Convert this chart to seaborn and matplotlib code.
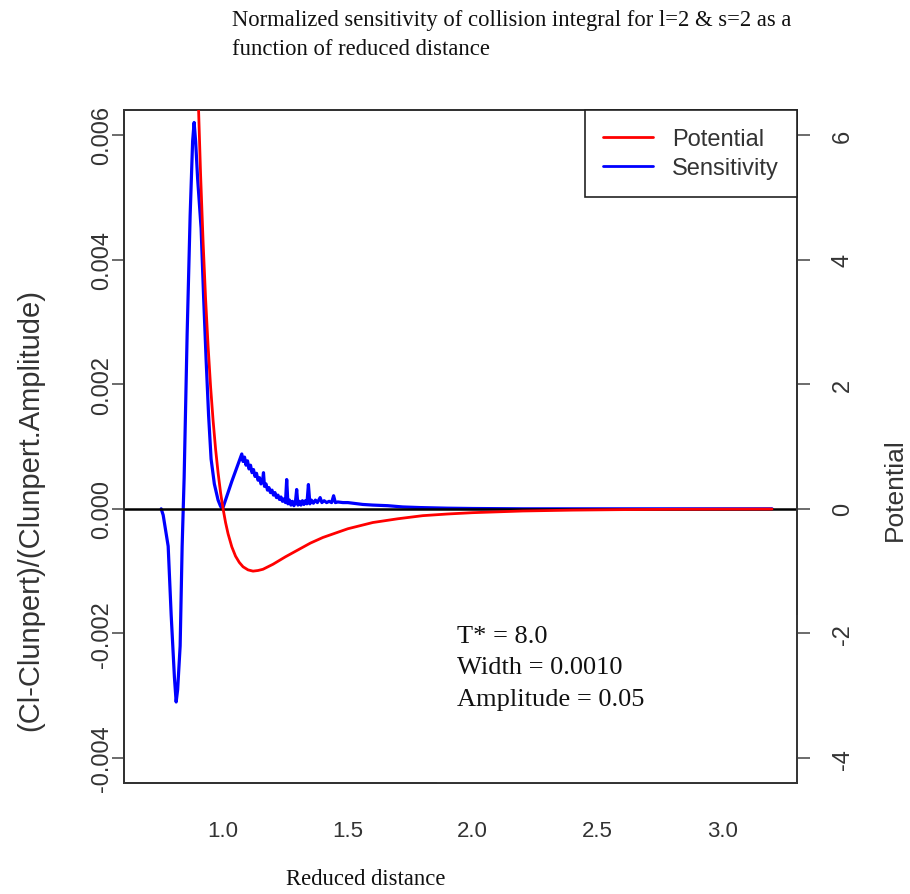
import matplotlib
matplotlib.use("Agg")
import matplotlib.pyplot as plt
import seaborn as sns
import pandas as pd
from matplotlib.lines import Line2D
from matplotlib.patches import Rectangle

# ---------------- data ----------------
sens_x = [0.752, 0.76, 0.78, 0.792, 0.805, 0.812, 0.818, 0.828, 0.836,
          0.844, 0.856, 0.868, 0.878, 0.884, 0.890, 0.898, 0.912, 0.922, 0.932,
          0.942, 0.952, 0.965, 0.980, 0.990, 0.998, 1.035, 1.075,
          1.080, 1.086, 1.092, 1.098, 1.104, 1.110, 1.116, 1.122, 1.128, 1.134,
          1.140, 1.146, 1.152, 1.158, 1.162, 1.166, 1.172, 1.178, 1.184, 1.190,
          1.196, 1.202, 1.208, 1.214, 1.220, 1.226, 1.232, 1.238, 1.244, 1.250,
          1.255, 1.260, 1.266, 1.272, 1.278, 1.284, 1.290, 1.295, 1.300, 1.306,
          1.312, 1.318, 1.324, 1.330, 1.336, 1.342, 1.348, 1.354, 1.362, 1.370,
          1.378, 1.389, 1.396, 1.405, 1.415, 1.425, 1.435, 1.443, 1.450, 1.46,
          1.48, 1.50, 1.52, 1.56, 1.60, 1.66, 1.72, 1.79, 1.90, 2.00,
          2.20, 2.50, 2.80, 3.20]
sens_y = [0.0, -0.0001, -0.0006, -0.0017, -0.0027, -0.0031, -0.0029, -0.0022, -0.0006,
          0.0005, 0.0028, 0.0047, 0.0059, 0.0062, 0.0059, 0.0053, 0.0045, 0.0034, 0.0024,
          0.0015, 0.0008, 0.0004, 0.00014, 0.00004, 0.0, 0.00044, 0.00088,
          0.00076, 0.00083, 0.00070, 0.00077, 0.00064, 0.00070, 0.00058, 0.00063, 0.00052, 0.00057,
          0.00046, 0.00050, 0.00040, 0.00044, 0.00058, 0.00036, 0.00040, 0.00030, 0.00034, 0.00026,
          0.00030, 0.00022, 0.00026, 0.00018, 0.00022, 0.00015, 0.00019, 0.00012, 0.00016, 0.00010,
          0.00047, 0.00008, 0.00014, 0.00006, 0.00012, 0.00005, 0.00011, 0.00031, 0.00006, 0.00012,
          0.00006, 0.00013, 0.00007, 0.00013, 0.00008, 0.00039, 0.00008, 0.00014, 0.00009, 0.00014,
          0.00010, 0.00018, 0.00010, 0.00013, 0.00010, 0.00012, 0.00010, 0.00021, 0.00010, 0.00011,
          0.00010, 0.00010, 0.00009, 0.00007, 0.00006, 0.00005, 0.00003, 0.00002, 0.00001, 0.000005,
          0.0, 0.0, 0.0, 0.0]

pot_x = [0.88, 0.89, 0.90, 0.91, 0.92, 0.93, 0.94, 0.95, 0.96, 0.97,
         0.98, 0.99, 1.00, 1.01, 1.02, 1.035, 1.05, 1.065, 1.08, 1.10,
         1.12, 1.14, 1.16, 1.20, 1.25, 1.30, 1.35, 1.40, 1.50, 1.60,
         1.70, 1.80, 1.90, 2.00, 2.20, 2.40, 2.60, 2.80, 3.00, 3.20]
pot_y = [9.93, 8.15, 6.64, 5.36, 4.28, 3.37, 2.61, 1.96, 1.42, 0.96,
         0.58, 0.26, 0.0, -0.22, -0.40, -0.61, -0.76, -0.86, -0.93, -0.98,
         -1.00, -0.99, -0.97, -0.89, -0.77, -0.66, -0.55, -0.46, -0.32, -0.22,
         -0.16, -0.11, -0.083, -0.062, -0.035, -0.021, -0.013, -0.008, -0.0055, -0.0037]

x_ticks = [1.0, 1.5, 2.0, 2.5, 3.0]
sens_ticks = [-0.004, -0.002, 0.0, 0.002, 0.004, 0.006]
pot_ticks = [-4, -2, 0, 2, 4, 6]

title_text = ("Normalized sensitivity of collision integral for l=2 & s=2 as a\n"
              "function of reduced distance")
x_label = "Reduced distance"
left_label = "(Cl-Clunpert)/(Clunpert.Amplitude)"
right_label = "Potential"
legend_labels = ["Potential", "Sensitivity"]
note_lines = ["T* = 8.0", "Width = 0.0010", "Amplitude = 0.05"]

# ---------------- style ----------------
sns.set_style("white")
plt.rcParams["font.family"] = ["Liberation Sans", "DejaVu Sans"]
SERIF = ["Liberation Serif", "DejaVu Serif"]

W, H = 910, 895
fig = plt.figure(figsize=(W / 100, H / 100), dpi=100)
fig.patch.set_facecolor("white")

L, R, T, B = 124, 797, 111, 784
ax = fig.add_axes([L / W, 1 - B / H, (R - L) / W, (B - T) / H])
ax2 = ax.twinx()

sens_df = pd.DataFrame({"x": sens_x, "y": sens_y})
pot_df = pd.DataFrame({"x": pot_x, "y": pot_y})

sns.lineplot(data=sens_df, x="x", y="y", ax=ax, color="#0000ff", lw=2.3,
             estimator=None, sort=False, zorder=3)
ax.axhline(0, color="black", lw=1.8, zorder=4)
sns.lineplot(data=pot_df, x="x", y="y", ax=ax2, color="#ff0000", lw=2.0,
             estimator=None, sort=False, zorder=3)

ax.set_xlim(0.603, 3.30)
ax.set_ylim(-0.0044, 0.0064)
ax2.set_ylim(-4.4, 6.4)

ax.set_xticks(x_ticks)
ax.set_xticklabels([f"{v:.1f}" for v in x_ticks])
ax.set_yticks(sens_ticks)
ax.set_yticklabels([f"{v:.3f}" for v in sens_ticks])
ax2.set_yticks(pot_ticks)
ax2.set_yticklabels([str(v) for v in pot_ticks])

ax.set_xlabel("")
ax.set_ylabel("")
ax2.set_ylabel("")

for a in (ax, ax2):
    for s in a.spines.values():
        s.set_color("#333333")
        s.set_linewidth(1.4)

tick_kw = dict(direction="out", length=9, width=1.1, color="#444444",
               labelcolor="#333333")
ax.tick_params(axis="x", pad=17.5, labelsize=16, **tick_kw)
ax.tick_params(axis="y", left=True, pad=-1, labelsize=17, **tick_kw)
ax2.tick_params(axis="y", right=True, pad=16, labelsize=17, **tick_kw)
for lab in ax.get_yticklabels():
    lab.set_rotation(90)
    lab.set_va("center")
for lab in ax2.get_yticklabels():
    lab.set_rotation(90)
    lab.set_va("center")

# white annotation panel in the lower right
ax2.add_patch(Rectangle((0.465, 0.0), 0.537, 0.25, transform=ax2.transAxes,
                        facecolor="white", edgecolor="none", zorder=1.5,
                        clip_on=False))

# legend
handles = [Line2D([], [], color="#ff0000", lw=2.0),
           Line2D([], [], color="#0000ff", lw=2.0)]
leg = ax2.legend(handles, legend_labels, loc="upper right", borderaxespad=0,
                 fancybox=False, framealpha=1, edgecolor="#222222",
                 fontsize=17, handlelength=2.1, handletextpad=0.8,
                 labelspacing=0.28, borderpad=0.78)
leg.get_frame().set_linewidth(1.2)
leg.set_zorder(10)
for t in leg.get_texts():
    t.set_color("#333333")

def fx(px):
    return px / W

def fy(py):
    return 1 - py / H

# titles / labels
fig.text(fx(232), fy(10), title_text, family=SERIF, fontsize=16.3,
         ha="left", va="top", linespacing=1.5, color="#111111")
fig.text(fx(366), fy(880), x_label, family=SERIF, fontsize=16.3,
         ha="center", va="center", color="#111111")
fig.text(fx(30), fy(510), left_label, fontsize=21, rotation=90,
         ha="center", va="center", color="#333333")
fig.text(fx(895), fy(490), right_label, fontsize=19, rotation=90,
         ha="center", va="center", color="#333333")

for i, line in enumerate(note_lines):
    fig.text(fx(457), fy(637 + 31.5 * i), line, family=SERIF, fontsize=19,
             ha="left", va="center", color="#111111")

fig.savefig("out.png", dpi=100, facecolor="white")
